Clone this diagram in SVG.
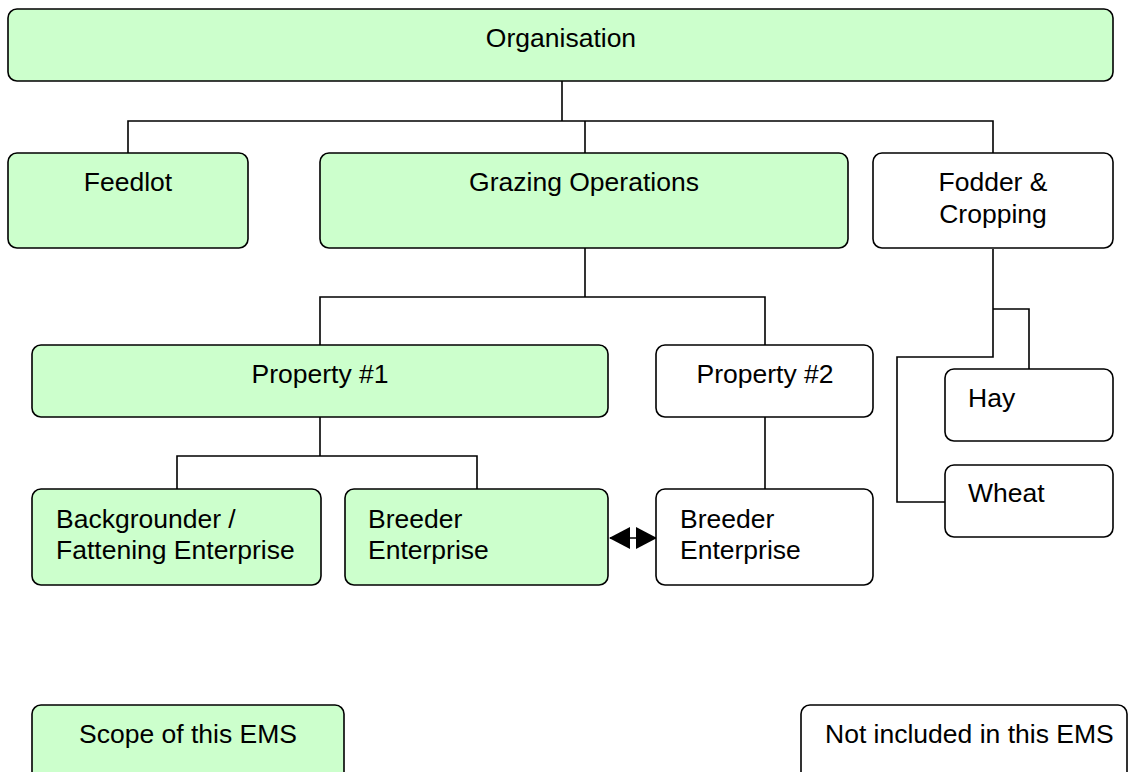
<svg xmlns="http://www.w3.org/2000/svg" width="1131" height="772" viewBox="0 0 1131 772">
<style>
.box{stroke:#000;stroke-width:1.6;}
.in{fill:#CCFFCC;}
.out{fill:#FFFFFF;}
.t{font-family:"Liberation Sans",Arial,sans-serif;font-size:26.5px;fill:#000;}
.c{text-anchor:middle;}
.conn line,.conn polyline{stroke:#000;stroke-width:1.6;fill:none;}
</style>
<rect width="1131" height="772" fill="#fff"/>
<g class="conn" id="connectors">
<polyline points="562,81 562,121"/>
<polyline points="128,153 128,121 993,121 993,153"/>
<line x1="585" y1="121" x2="585" y2="153"/>
<line x1="585" y1="248" x2="585" y2="297"/>
<polyline points="320,345 320,297 765,297 765,345"/>
<line x1="320" y1="417" x2="320" y2="456"/>
<polyline points="177,489 177,456 477,456 477,489"/>
<line x1="765" y1="417" x2="765" y2="489"/>
<polyline points="993,249 993,357 897,357 897,502 945,502"/>
<polyline points="993,309 1029,309 1029,369"/>
<line x1="610" y1="538" x2="656" y2="538"/>
<polygon points="609,538 630,527 630,549" fill="#000" stroke="none"/>
<polygon points="657,538 636,527 636,549" fill="#000" stroke="none"/>
</g>
<g id="organisation"><rect class="box in" x="8" y="9" width="1105" height="72" rx="9"/><text class="t c" x="561" y="47">Organisation</text></g>
<g id="feedlot"><rect class="box in" x="8" y="153" width="240" height="95" rx="9"/><text class="t c" x="128" y="191">Feedlot</text></g>
<g id="grazing"><rect class="box in" x="320" y="153" width="528" height="95" rx="9"/><text class="t c" x="584" y="191">Grazing Operations</text></g>
<g id="fodder"><rect class="box out" x="873" y="153" width="240" height="95" rx="9"/><text class="t c" x="993" y="191">Fodder &amp;</text><text class="t c" x="993" y="223">Cropping</text></g>
<g id="property1"><rect class="box in" x="32" y="345" width="576" height="72" rx="9"/><text class="t c" x="320" y="383">Property #1</text></g>
<g id="property2"><rect class="box out" x="656" y="345" width="217" height="72" rx="9"/><text class="t c" x="765" y="383">Property #2</text></g>
<g id="hay"><rect class="box out" x="945" y="369" width="168" height="72" rx="9"/><text class="t" x="968" y="407">Hay</text></g>
<g id="wheat"><rect class="box out" x="945" y="465" width="168" height="72" rx="9"/><text class="t" x="968" y="502">Wheat</text></g>
<g id="backgrounder"><rect class="box in" x="32" y="489" width="289" height="96" rx="9"/><text class="t" x="56" y="528">Backgrounder /</text><text class="t" x="56" y="559">Fattening Enterprise</text></g>
<g id="breeder1"><rect class="box in" x="345" y="489" width="263" height="96" rx="9"/><text class="t" x="368" y="528">Breeder</text><text class="t" x="368" y="559">Enterprise</text></g>
<g id="breeder2"><rect class="box out" x="656" y="489" width="217" height="96" rx="9"/><text class="t" x="680" y="528">Breeder</text><text class="t" x="680" y="559">Enterprise</text></g>
<g id="legend-scope"><rect class="box in" x="32" y="705" width="312" height="90" rx="9"/><text class="t c" x="188" y="743">Scope of this EMS</text></g>
<g id="legend-not"><rect class="box out" x="801" y="705" width="326" height="90" rx="9"/><text class="t" x="825" y="743">Not included in this EMS</text></g>
</svg>
